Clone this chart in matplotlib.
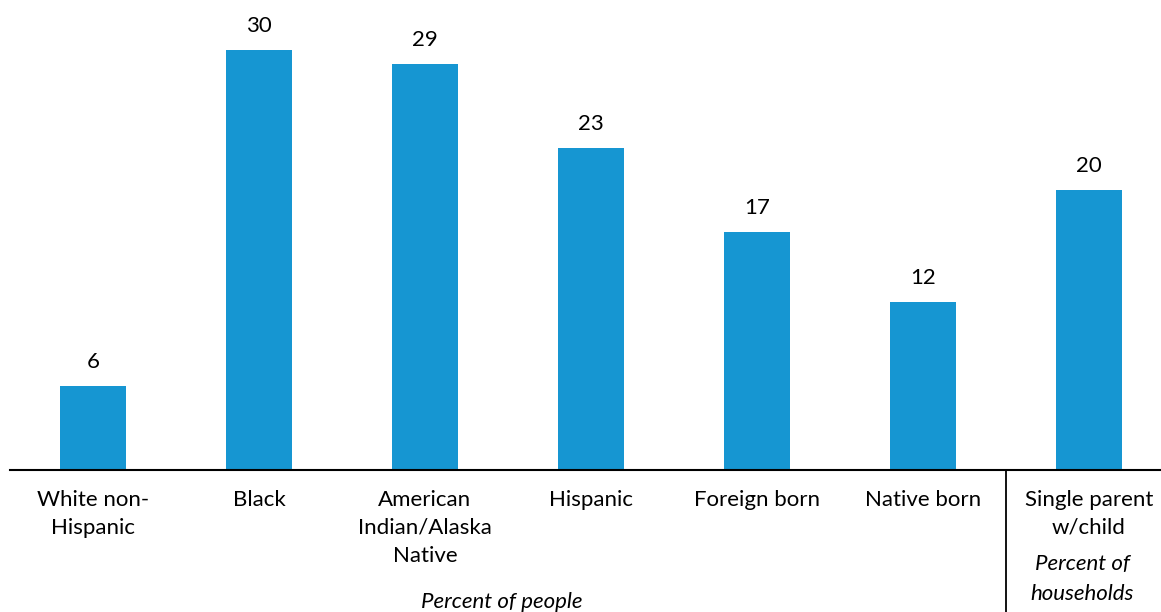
import matplotlib.pyplot as plt
import numpy as np

plt.rcParams['font.family'] = ['Lato', 'DejaVu Sans']

# data
categories = ['White non-\nHispanic', 'Black', 'American\nIndian/Alaska\nNative',
              'Hispanic', 'Foreign born', 'Native born', 'Single parent\nw/child']
values = [6, 30, 29, 23, 17, 12, 20]

fig = plt.figure(figsize=(11.61, 6.12), dpi=100)
# axes placed in figure pixels: left 10, baseline at y=470 from top
ax = fig.add_axes([10 / 1161, (612 - 470) / 612, 1151 / 1161, 470 / 612])

x = np.arange(len(values))
ax.bar(x, values, width=0.4, color='#1696d2')
ax.set_xlim(-0.5, (1161 - 93) / 166)
ax.set_ylim(0, 470 / 14)

for xi, v in zip(x, values):
    ax.annotate(str(v), (xi, v), xytext=(0, 24), textcoords='offset pixels',
                ha='center', va='center', fontsize=16, color='#000000')

for s in ['top', 'right', 'left']:
    ax.spines[s].set_visible(False)
ax.spines['bottom'].set_linewidth(1.5)
ax.spines['bottom'].set_color('#000000')
ax.set_yticks([])
ax.set_xticks([])

# category labels below the axis
for xi, lab in zip(x, categories):
    ax.annotate(lab, (xi, 0), xytext=(0, -20), textcoords='offset pixels',
                ha='center', va='top', fontsize=16, linespacing=1.49,
                color='#000000', annotation_clip=False)

# divider between groups
ax.plot([5.5, 5.5], [0, -142 / 14], color='#000000', lw=1.3, clip_on=False)

ax.annotate('Percent of people', (2.46, 0), xytext=(0, -132), textcoords='offset pixels',
            ha='center', va='center', fontsize=16, style='italic',
            color='#000000', annotation_clip=False)
ax.annotate('Percent of\nhouseholds', (5.96, 0), xytext=(0, -109), textcoords='offset pixels',
            ha='center', va='center', fontsize=16, style='italic', linespacing=1.6,
            color='#000000', annotation_clip=False)

fig.savefig('out.png', dpi=100)
